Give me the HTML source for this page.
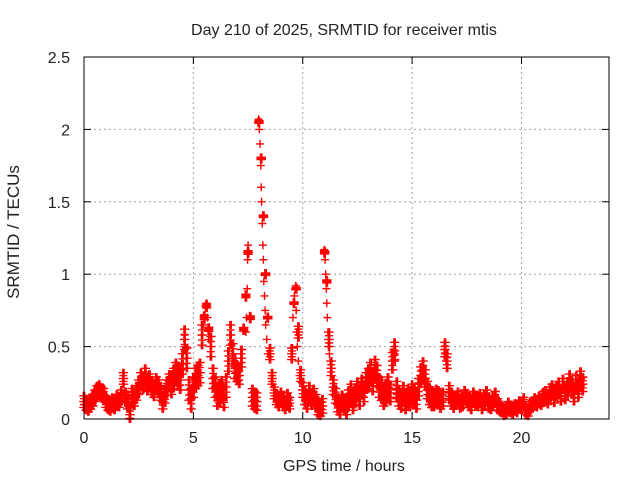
<!DOCTYPE html>
<html><head><meta charset="utf-8"><style>
html,body{margin:0;padding:0;background:#fff}
svg{display:block;font-family:"Liberation Sans",sans-serif}
</style></head><body>
<svg id="chart" width="640" height="480">
<text x="344" y="35" font-size="16" text-anchor="middle" fill="#222">Day 210 of 2025, SRMTID for receiver mtis</text>
<text x="344" y="471" font-size="16" text-anchor="middle" fill="#222">GPS time / hours</text>
<text transform="translate(19,232) rotate(-90)" font-size="17" text-anchor="middle" fill="#222">SRMTID / TECUs</text>
<g id="grid"></g>
<g id="ticks"></g>
<g id="marks"></g>
<rect x="84" y="57" width="525" height="362" fill="none" stroke="#000" stroke-width="1"/>
</svg>
<script>
const xTicks=[0,5,10,15,20];
const xTickLabels=["0","5","10","15","20"];
const yTicks=[0,0.5,1,1.5,2,2.5];
const yTickLabels=["0","0.5","1","1.5","2","2.5"];
const tStart=0, tStep=0.1;
const srmtid=[
.12,.10,.09,.11,.13,.16,.19,.20,.18,.17,
.12,.10,.09,.11,.10,.13,.12,.16,.28,.15,
.12,.03,.16,.14,.18,.22,.27,.25,.30,.24,
.26,.22,.20,.24,.22,.18,.12,.16,.22,.26,
.24,.28,.32,.30,.27,.38,.55,.42,.20,.14,
.22,.28,.30,.32,.58,.70,.78,.62,.50,.28,
.22,.16,.18,.20,.15,.22,.40,.58,.45,.35,
.32,.30,.42,.62,.85,1.15,.70,.15,.13,.12,
2.05,1.80,1.40,1.00,.70,.45,.28,.18,.14,.12,
.15,.12,.10,.14,.11,.45,.80,.90,.60,.30,
.20,.15,.12,.18,.14,.16,.12,.08,.07,.09,
1.15,.95,.55,.35,.22,.16,.10,.08,.12,.10,
.09,.14,.18,.12,.16,.20,.15,.22,.18,.26,
.28,.32,.26,.34,.30,.22,.20,.16,.18,.22,
.18,.40,.47,.20,.15,.13,.17,.12,.15,.14,
.18,.16,.13,.22,.30,.34,.28,.20,.16,.14,
.13,.16,.15,.12,.14,.48,.40,.18,.14,.12,
.13,.15,.11,.12,.16,.14,.12,.10,.15,.13,
.12,.14,.10,.13,.16,.11,.10,.12,.15,.10,
.08,.07,.05,.06,.09,.07,.06,.08,.07,.10,
.09,.12,.06,.05,.09,.10,.12,.11,.13,.12,
.15,.16,.14,.18,.20,.15,.19,.22,.16,.24,
.18,.21,.26,.22,.17,.25,.20,.28,.24];
// hourly scatter half-width of the sample band (TECU)
const hourlySpread=[.04,.04,.05,.05,.07,.07,.07,.06,.04,.04,.05,.05,.06,.07,.06,.06,.05,.04,.04,.03,.03,.04,.05];
// extra samples along steep features
const spikeTimes=[4.6,4.62,5.45,5.5,5.55,5.6,5.65,5.7,7.4,7.43,7.46,7.48,7.5,7.52,7.95,7.98,8.0,8.02,8.05,8.08,8.1,8.12,8.15,8.18,8.2,8.22,8.25,8.28,8.3,8.35,8.4,9.55,9.6,9.62,9.65,9.68,9.7,9.72,9.75,9.8,9.85,10.98,11.02,11.05,11.08,11.1,11.12,11.15,11.18,11.22,11.25,14.15,14.2,14.22,16.5,16.52,16.55];
const spikeValues=[.58,.5,.65,.72,.78,.8,.7,.55,.6,.7,.9,1.1,1.2,1.15,2.05,2.07,2.06,2.0,1.9,1.75,1.6,1.5,1.35,1.2,1.1,.95,.85,.75,.65,.55,.45,.7,.8,.85,.9,.92,.75,.6,.5,.4,.3,1.17,1.1,1.0,.9,.8,.7,.6,.5,.45,.4,.48,.45,.4,.5,.45,.4];
const X0=84,X1=609,Y0=419,Y1=57,xMax=24,yMax=2.5;
const xs=v=>X0+(v/xMax)*(X1-X0);
const ys=v=>Y0-(v/yMax)*(Y0-Y1);
const NS="http://www.w3.org/2000/svg";
const grid=document.getElementById('grid'),ticks=document.getElementById('ticks'),marks=document.getElementById('marks');
function mk(tag,attrs,parent){const e=document.createElementNS(NS,tag);for(const k in attrs)e.setAttribute(k,attrs[k]);parent.appendChild(e);return e;}
xTicks.forEach((v,i)=>{const x=xs(v);
 if(v>0){const g=mk('line',{x1:x,x2:x,y1:Y1,y2:Y0,stroke:'#a0a0a0','stroke-dasharray':'2,3'},grid);
 
 }
 const t=mk('line',{x1:x,x2:x,y1:Y0,y2:Y0-7,stroke:'#000'},ticks);
 
 
 const t2=mk('line',{x1:x,x2:x,y1:Y1,y2:Y1+7,stroke:'#000'},ticks);
 
 
 const l=mk('text',{x:x,y:Y0+24,'font-size':16,'text-anchor':'middle',fill:'#222'},ticks);
 l.textContent=xTickLabels[i];
 
 
});
yTicks.forEach((v,i)=>{const y=ys(v);
 if(v>0&&v<yMax){const g=mk('line',{x1:X0,x2:X1,y1:y,y2:y,stroke:'#a0a0a0','stroke-dasharray':'2,3'},grid);
 
 }
 const t=mk('line',{x1:X0,x2:X0+7,y1:y,y2:y,stroke:'#000'},ticks);
 
 
 const t2=mk('line',{x1:X1,x2:X1-7,y1:y,y2:y,stroke:'#000'},ticks);
 
 
 const l=mk('text',{x:X0-14,y:y+6,'font-size':16,'text-anchor':'end',fill:'#222'},ticks);
 l.textContent=yTickLabels[i];
 
 
});
let d='';
function plus(t,v){const x=xs(t),y=ys(Math.max(0,v));
 d+=`M${(x-4).toFixed(1)} ${y.toFixed(1)}h8M${x.toFixed(1)} ${(y-4).toFixed(1)}v8`;}
const dts=[-0.033,0,0.033],dvs=[-1,-0.5,0,0.5,1];
srmtid.forEach((v,i)=>{const t=tStart+i*tStep;
 let s=hourlySpread[Math.min(hourlySpread.length-1,Math.floor(t))];
 if(v>0.6)s*=0.2;
 dts.forEach((dt,j)=>dvs.forEach((k,m)=>{if((j+m)%2===0||k===0)plus(t+dt,v+k*s);}));});
spikeTimes.forEach((t,i)=>plus(t,spikeValues[i]));
const p=mk('path',{d:d,stroke:'#ff0000','stroke-width':1.4,fill:'none'},marks);


</script>
</body></html>
